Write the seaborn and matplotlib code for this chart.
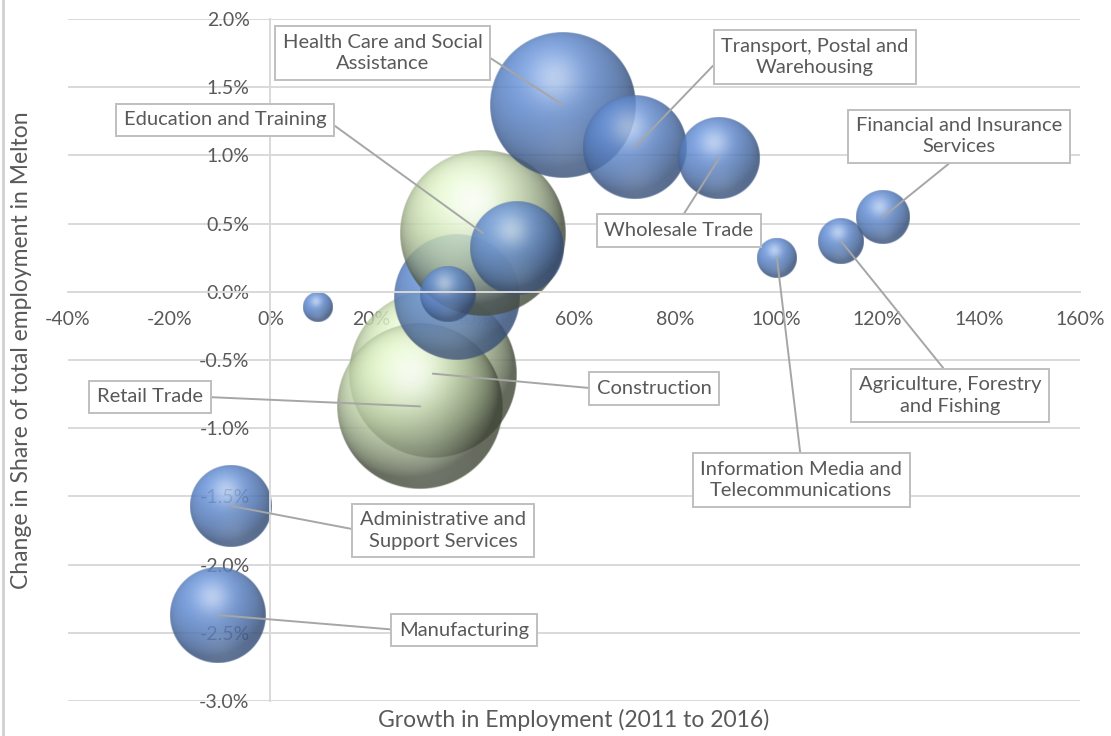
import numpy as np
import pandas as pd
import matplotlib
matplotlib.use("Agg")
import matplotlib.pyplot as plt
import seaborn as sns
from matplotlib.ticker import FuncFormatter, MultipleLocator
from matplotlib.lines import Line2D

# ---- data (percent units) -------------------------------------------------
industries = [
    "Agriculture, Forestry\nand Fishing",
    "Manufacturing",
    "Administrative and\nSupport Services",
    "",
    "Construction",
    "Retail Trade",
    "",
    "Education and Training",
    "",
    "",
    "Health Care and Social\nAssistance",
    "Transport, Postal and\nWarehousing",
    "Wholesale Trade",
    "Information Media and\nTelecommunications",
    "Financial and Insurance\nServices",
]
growth = [112.8, -10.4, -7.8, 9.4, 32.1, 29.6, 36.9, 42.0, 48.7, 35.1,
          57.8, 72.0, 88.7, 100.1, 121.1]
share_change = [0.37, -2.37, -1.57, -0.11, -0.60, -0.84, -0.04, 0.43, 0.32, -0.02,
                1.37, 1.06, 0.98, 0.25, 0.55]
jobs = [260, 1150, 840, 110, 3530, 3440, 1980, 3440, 1100, 390,
        2660, 1350, 840, 200, 360]
group = ["Other", "Other", "Other", "Other", "Top", "Top", "Other", "Top", "Other", "Other",
         "Other", "Other", "Other", "Other", "Other"]

df = pd.DataFrame({"industry": industries, "growth": growth,
                   "share_change": share_change, "jobs": jobs, "group": group})

# ---- label layout: box centre (data units) and where the leader leaves the box
label_layout = {
    "Health Care and Social\nAssistance": (22.2, 1.75, (1, 0.5)),
    "Transport, Postal and\nWarehousing": (107.6, 1.72, (0, 0.5)),
    "Education and Training": (-8.9, 1.26, (1, 0.5)),
    "Financial and Insurance\nServices": (136.1, 1.14, (0.5, 0)),
    "Wholesale Trade": (80.7, 0.45, (0.5, 1)),
    "Information Media and\nTelecommunications": (104.9, -1.38, (0.5, 1)),
    "Agriculture, Forestry\nand Fishing": (134.3, -0.76, (0.5, 1)),
    "Construction": (75.8, -0.71, (0, 0.5)),
    "Retail Trade": (-23.8, -0.77, (1, 0.5)),
    "Administrative and\nSupport Services": (34.1, -1.75, (0, 0.5)),
    "Manufacturing": (38.3, -2.48, (0, 0.5)),
}

BLUE = (0.38, 0.55, 0.83)
GREEN = (0.84, 0.92, 0.74)
palette = {"Other": BLUE, "Top": GREEN}
# (ambient, diffuse, highlight strength) per colour group
shading = {"Other": (0.55, 0.50, 0.5), "Top": (0.30, 0.78, 0.85)}

W, H, DPI = 1111, 736, 100
XMIN, XMAX, YMIN, YMAX = -40, 160, -3.0, 2.0
AX_L, AX_R, AX_T, AX_B = 68, 1080, 19, 701     # pixel box of the plot area
R_MAX = 84                                      # radius (px) of the largest bubble

sns.set_theme(style="white")
plt.rcParams["font.family"] = ["Lato", "DejaVu Sans"]
TXT = "#595959"
GRID = "#D9D9D9"

fig = plt.figure(figsize=(W / DPI, H / DPI), dpi=DPI)
ax = fig.add_axes([AX_L / W, 1 - AX_B / H, (AX_R - AX_L) / W, (AX_B - AX_T) / H])
ax.set_xlim(XMIN, XMAX)
ax.set_ylim(YMIN, YMAX)

px_per_x = (AX_R - AX_L) / (XMAX - XMIN)
px_per_y = (AX_B - AX_T) / (YMAX - YMIN)

# bubble body: area proportional to jobs
jmax = max(jobs)
s_max = (2 * R_MAX * 72 / DPI) ** 2
sns.scatterplot(data=df, x="growth", y="share_change", size="jobs",
                sizes=(0, s_max), size_norm=(0, jmax), hue="group",
                palette=palette, alpha=0.25, linewidth=0, legend=False,
                ax=ax, zorder=1)
ax.set_xlabel("")
ax.set_ylabel("")


def sphere(base, r_px, amb, dif, spec_amt, n=241, alpha=0.8):
    t = np.linspace(-1, 1, n)
    u, v = np.meshgrid(t, -t)
    d2 = u ** 2 + v ** 2
    d = np.sqrt(d2)
    z = np.sqrt(np.clip(1 - d2, 0, 1))
    L = np.array([-0.30, 0.50, 0.81])
    L = L / np.linalg.norm(L)
    diff = np.clip(u * L[0] + v * L[1] + z * L[2], 0, 1)
    spec = np.exp(-((u + 0.12) ** 2 + (v - 0.38) ** 2) / (2 * 0.25 ** 2))
    bounce = 0.10 * np.exp(-((u - 0.05) ** 2 + (v + 0.62) ** 2) / (2 * 0.3 ** 2))
    base = np.array(base)
    col = base * (amb + dif * diff)[..., None]
    col = col + (1 - col) * (spec_amt * spec)[..., None]
    col = col + (1 - col) * bounce[..., None]
    col = np.clip(col, 0, 1)
    a = alpha * np.clip((1 - d) * r_px + 0.5, 0, 1)
    return np.dstack([col, a])


for i, row in df.iterrows():
    r_px = R_MAX * np.sqrt(row.jobs / jmax)
    rx = r_px / px_per_x
    ry = r_px / px_per_y
    img = sphere(palette[row.group], r_px, *shading[row.group])
    ax.imshow(img, extent=(row.growth - rx, row.growth + rx,
                           row.share_change - ry, row.share_change + ry),
              origin="upper", interpolation="bilinear", aspect="auto",
              zorder=2 + i * 0.01)

# labels with leader lines
for _, row in df.iterrows():
    if not row.industry:
        continue
    lx, ly, rel = label_layout[row.industry]
    ax.annotate(row.industry, xy=(row.growth, row.share_change), xytext=(lx, ly),
                ha="center", va="center", multialignment="center",
                fontsize=14.5, color=TXT, zorder=10, linespacing=1.3,
                bbox=dict(boxstyle="square,pad=0.38", fc="white", ec="#BFBFBF", lw=1.4),
                arrowprops=dict(arrowstyle="-", color="#A6A6A6", lw=1.4,
                                shrinkA=0, shrinkB=0, relpos=rel))

ax.set_xlim(XMIN, XMAX)
ax.set_ylim(YMIN, YMAX)

# axes styling: y axis crosses at x = 0, x labels sit along y = 0
ax.set_axisbelow(True)
ax.yaxis.set_major_locator(MultipleLocator(0.5))
ax.xaxis.set_major_locator(MultipleLocator(20))
ax.yaxis.set_major_formatter(FuncFormatter(lambda v, p: f"{v:.1f}%"))
ax.xaxis.set_major_formatter(FuncFormatter(lambda v, p: f"{v:.0f}%"))
ax.grid(axis="y", color=GRID, lw=1.4)
ax.grid(axis="x", visible=False)
for s in ("top", "right"):
    ax.spines[s].set_visible(False)
ax.spines["left"].set_position(("data", 0))
ax.spines["left"].set_color(GRID)
ax.spines["left"].set_linewidth(1.4)
ax.spines["bottom"].set_position(("data", 0))
ax.spines["bottom"].set_color(GRID)
ax.spines["bottom"].set_linewidth(1.4)
ax.tick_params(axis="both", length=0, labelsize=14, labelcolor=TXT)
ax.tick_params(axis="x", pad=14)
ax.tick_params(axis="y", pad=15)

fig.text((AX_L + AX_R) / 2 / W, 1 - 720 / H, "Growth in Employment (2011 to 2016)",
         ha="center", va="center", fontsize=16.5, color=TXT)
fig.text(22 / W, 1 - 350 / H, "Change in Share of total employment in Melton",
         ha="center", va="center", rotation=90, fontsize=16.5, color=TXT)

fig.add_artist(Line2D([3 / W, 3 / W], [0, 1], color="#D0D0D0", lw=2,
                      transform=fig.transFigure))

fig.savefig("out.png", dpi=DPI)
